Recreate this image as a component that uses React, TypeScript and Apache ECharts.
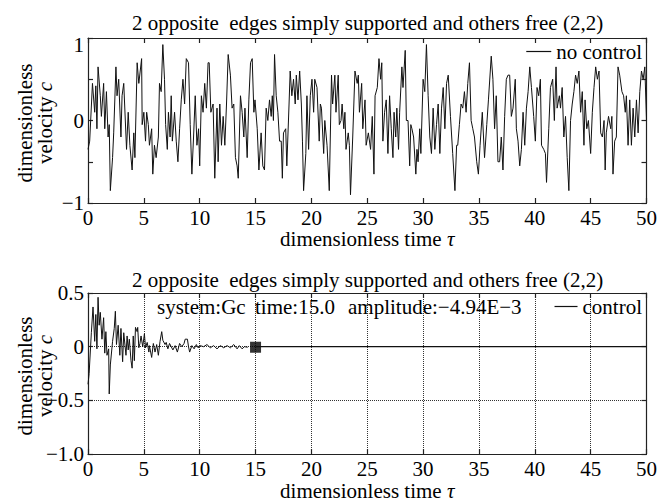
import React, { useEffect, useRef } from 'react';
import * as echarts from 'echarts';

const FONT = 'Liberation Serif, Times New Roman, serif';
const TITLE = '2 opposite\u00a0 edges simply supported and others free (2,2)';

// ---- top panel: no control ----
const topTime = [
  0, 0.15, 0.4, 0.6, 0.7, 0.8, 0.9, 1.1, 1.2, 1.4, 1.5, 1.65, 1.8, 1.9, 2.0, 2.2, 2.3, 2.5, 2.6, 2.75,
  2.95, 3.05, 3.2, 3.45, 3.6, 3.75, 3.95, 4.1, 4.2, 4.4, 4.55, 4.8, 4.85, 5.0, 5.15, 5.25, 5.4, 5.5, 5.7, 5.8,
  5.95, 6.1, 6.3, 6.4, 6.55, 6.7, 6.85, 6.95, 7.1, 7.2, 7.35, 7.45, 7.55, 7.75, 7.9, 8.05, 8.2, 8.35, 8.5, 8.65,
  8.8, 9.0, 9.15, 9.3, 9.45, 9.6, 9.75, 9.9, 10.0, 10.15, 10.3, 10.45, 10.6, 10.75, 10.85, 11.0, 11.2, 11.35, 11.55, 11.65,
  11.8, 11.95, 12.1, 12.25, 12.4, 12.55, 12.75, 12.9, 13.05, 13.2, 13.35, 13.45, 13.65, 13.8, 13.95, 14.05, 14.25, 14.4, 14.55, 14.7,
  14.85, 14.95, 15.15, 15.3, 15.5, 15.65, 15.8, 15.95, 16.1, 16.25, 16.4, 16.5, 16.6, 16.7, 16.85, 17.0, 17.15, 17.3, 17.4, 17.5,
  17.7, 17.8, 18.0, 18.1, 18.25, 18.4, 18.55, 18.65, 18.8, 18.95, 19.1, 19.2, 19.3, 19.5, 19.6, 19.75, 19.9, 20.05, 20.2, 20.3,
  20.5, 20.7, 20.8, 20.9, 21.1, 21.2, 21.4, 21.6, 21.8, 21.9, 22.1, 22.2, 22.4, 22.5, 22.65, 22.75, 22.9, 23.0, 23.1, 23.3,
  23.4, 23.5, 23.7, 23.9, 24.1, 24.2, 24.3, 24.5, 24.6, 24.8, 24.9, 25.1, 25.3, 25.45, 25.6, 25.7, 25.9, 26.05, 26.2, 26.3,
  26.4, 26.55, 26.7, 26.85, 27.0, 27.15, 27.3, 27.4, 27.55, 27.65, 27.8, 27.9, 28.1, 28.2, 28.4, 28.5, 28.65, 28.8, 28.9, 29.0,
  29.15, 29.35, 29.45, 29.55, 29.7, 29.8, 30.0, 30.15, 30.3, 30.45, 30.6, 30.75, 30.9, 31.05, 31.2, 31.35, 31.5, 31.65, 31.8, 31.95,
  32.1, 32.25, 32.45, 32.65, 32.85, 33.0, 33.1, 33.25, 33.4, 33.55, 33.7, 33.85, 34.0, 34.15, 34.3, 34.45, 34.6, 34.8, 34.95, 35.1,
  35.3, 35.5, 35.7, 35.85, 36.1, 36.25, 36.4, 36.55, 36.7, 36.85, 37.0, 37.15, 37.3, 37.45, 37.6, 37.75, 37.9, 38.05, 38.25, 38.35,
  38.5, 38.65, 38.8, 38.95, 39.1, 39.25, 39.4, 39.55, 39.7, 39.9, 40.05, 40.2, 40.35, 40.5, 40.6, 40.8, 40.95, 41.05, 41.25, 41.4,
  41.6, 41.75, 41.9, 42.0, 42.2, 42.3, 42.45, 42.6, 42.75, 42.9, 43.05, 43.2, 43.35, 43.5, 43.65, 43.8, 43.95, 44.1, 44.25, 44.4,
  44.5, 44.65, 44.8, 45.0, 45.15, 45.3, 45.45, 45.6, 45.75, 45.9, 46.05, 46.2, 46.3, 46.4, 46.6, 46.8, 46.9, 47.0, 47.15, 47.3,
  47.45, 47.6, 47.8, 47.95, 48.1, 48.2, 48.35, 48.5, 48.65, 48.8, 48.95, 49.1, 49.25, 49.4, 49.55, 49.7, 49.85, 50.0,
];
const topValue = [
  -0.35, -0.25, 0.45, 0.1, 0.42, -0.1, 0.65, 0.3, 0.05, 0.45, -0.1, 0.35, -0.2, -0.05, -0.85, -0.45, -0.15, 0.65, 0.3, 0.5,
  -0.2, 0.3, 0.45, -0.35, 0.1, -0.3, -0.6, -0.15, -0.45, 0.7, 0.45, 0.75, -0.05, 0.1, -0.25, 0.1, -0.05, -0.3, -0.1, -0.65,
  -0.3, -0.45, -0.2, 0.45, 0.35, 0.92, 0.5, -0.05, -0.35, 0.1, -0.2, 0.3, -0.25, 0.1, -0.25, -0.5, -0.1, 0.25, 0.5, 0.2,
  0.75, 0.7, -0.05, -0.65, -0.2, 0.3, -0.3, -0.1, -0.55, 0.3, 0.1, 0.45, 0.15, 0.7, 0.7, 0.1, 0.2, -0.7, 0.15, -0.5,
  0.2, -0.3, 0.05, -0.3, 0.2, 0.8, 0.55, 0.15, 0.2, -0.45, -0.55, -0.7, 0.3, 0.1, -0.2, 0.15, -0.45, 0.25, 0.7, 0.75,
  0.1, 0.25, -0.1, -0.6, -0.15, -0.55, -0.6, 0.15, 0.0, 0.25, 0.05, 0.3, 0.0, 0.8, 0.3, 0.1, -0.25, -0.25, -0.7, -0.15,
  -0.1, -0.55, 0.2, 0.6, 0.3, 0.5, 0.2, 0.55, 0.25, 0.6, 0.2, -0.25, -0.85, -0.4, 0.3, -0.35, 0.3, 0.5, 0.1, 0.5,
  0.4, -0.25, 0.2, 0.15, -0.4, 0.0, -0.3, -0.85, 0.55, 0.2, 0.55, 0.1, 0.55, -0.05, 0.0, 0.2, -0.1, 0.1, -0.35, -0.15,
  -0.3, -0.9, -0.2, 0.6, 0.45, 0.55, 0.1, 0.45, -0.1, 0.25, -0.3, -0.15, -0.35, 0.05, -0.65, 0.3, 0.4, 0.75, 0.5, 0.7,
  -0.25, 0.1, 0.25, -0.4, 0.3, -0.1, -0.45, 0.1, -0.2, 0.15, -0.35, 0.1, 0.65, 0.4, 0.85, 0.0, 0.0, -0.55, -0.05, -0.1,
  -0.2, -0.65, -0.35, -0.5, -0.1, -0.4, 0.5, 0.35, 0.92, 0.3, -0.2, -0.4, 0.15, -0.35, -0.05, 0.2, -0.4, 0.15, 0.4, -0.1,
  0.45, 0.55, 0.05, -0.4, -0.85, -0.3, -0.3, -0.05, 0.2, 0.15, 0.35, 0.1, 0.45, 0.7, 0.0, -0.1, -0.2, -0.5, -0.65, -0.3,
  0.1, -0.45, -0.05, 0.25, 0.78, 0.5, -0.1, 0.3, -0.5, -0.5, -0.2, -0.6, 0.05, 0.5, 0.55, 0.55, 0.05, 0.15, 0.5, -0.1,
  -0.25, -0.55, -0.35, 0.1, -0.3, 0.15, 0.35, 0.65, 0.4, 0.05, -0.25, 0.4, 0.3, 0.5, -0.3, -0.35, -0.4, -0.75, -0.1, 0.4,
  0.5, 0.0, 0.65, 0.15, 0.3, 0.15, 0.4, -0.2, 0.05, -0.45, -0.85, 0.0, 0.2, 0.35, 0.55, 0.45, 0.6, 0.1, 0.35, -0.3,
  0.25, -0.1, 0.0, -0.4, 0.1, 0.4, 0.65, 0.5, 0.6, -0.15, -0.2, 0.0, -0.6, -0.15, 0.05, -0.1, 0.05, -0.65, -0.25, -0.2,
  0.65, 0.55, 0.35, 0.3, 0.1, 0.3, -0.3, 0.25, -0.3, 0.15, -0.2, 0.25, -0.15, 0.35, 0.6, 0.5, 0.65, 0.0,
];

// ---- bottom panel: control ----
const bottomTime = [
  0, 0.1, 0.3, 0.45, 0.6, 0.7, 0.8, 0.9, 1.0, 1.1, 1.25, 1.4, 1.5, 1.6, 1.7, 1.85, 1.9, 2.0, 2.2, 2.35,
  2.45, 2.55, 2.7, 2.85, 2.95, 3.1, 3.2, 3.4, 3.5, 3.6, 3.7, 3.85, 3.95, 4.05, 4.15, 4.25, 4.4, 4.45, 4.55, 4.65,
  4.75, 4.9, 5.05, 5.15, 5.3, 5.45, 5.5, 5.7, 5.85, 6.0, 6.15, 6.3, 6.45, 6.6, 6.7, 6.9, 7.0, 7.15, 7.3, 7.6,
  7.8, 8.0, 8.2, 8.4, 8.6, 8.7, 8.9, 9.0, 9.1, 9.3, 9.5, 9.7, 9.85, 10.05, 10.35, 10.65, 10.95, 11.25, 11.55, 11.85,
  12.15, 12.45, 12.75, 13.05, 13.35, 13.55, 13.8, 14.0, 14.3,
];
const bottomValue = [
  -0.35, -0.25, 0.13, 0.37, 0.05, 0.3, -0.02, 0.46, 0.2, 0.32, 0.07, 0.27, -0.06, 0.14, -0.08, -0.02, -0.44, -0.17, 0.05, 0.17,
  0.33, 0.02, 0.2, -0.08, 0.17, -0.14, 0.13, -0.08, 0.1, -0.03, 0.07, -0.13, -0.2, 0.1, -0.13, 0.18, 0.14, 0.18, -0.01, 0.03,
  0.1, 0.0, 0.12, -0.01, 0.04, -0.05, 0.01, -0.1, 0.03, -0.05, 0.02, -0.08, 0.05, 0.14, 0.06, 0.02, 0.04, -0.02, 0.03, -0.03,
  0.01, -0.05, 0.03, 0.0, 0.03, 0.07, 0.07, 0.0, -0.05, 0.01, -0.02, 0.02, -0.01, 0.01, 0.0, 0.02, -0.01, 0.01, -0.02, 0.01,
  -0.01, 0.01, -0.01, 0.02, -0.02, 0.01, -0.02, 0.0, -0.005,
];
const endTime = 15.0;
const endAmplitude = -4.94e-3;
const restSegment = [[15, 0], [50, 0]];

const xTicks = { min: 0, max: 50, interval: 5 };

const fmtTop = (v: number) =>
  !Number.isInteger(v) ? '' : v === 1 ? '{top|1}' : v < 0 ? '\u2212' + Math.abs(v) : String(v);
const fmtBottom = (v: number) => (v === 0 ? '0' : v < 0 ? '\u2212' + Math.abs(v).toFixed(1) : v.toFixed(1));

const textBase = { fontFamily: FONT, fontSize: 21, color: '#000' };

function xAxisDef(grid: number, position: 'top' | 'bottom', labels: boolean, dotted: boolean) {
  return {
    type: 'value', gridIndex: grid, position, ...xTicks,
    axisLine: { show: true, onZero: false, lineStyle: { color: '#222', width: 1.2 } },
    axisTick: { show: true, inside: true, length: 5, lineStyle: { color: '#222', width: 1.2 } },
    axisLabel: { show: labels, margin: 4, ...textBase },
    splitLine: { show: dotted, lineStyle: { type: 'dotted', color: '#333', width: 1 } },
    name: labels ? 'dimensionless time {i|\u03c4}' : '',
    nameLocation: 'middle', nameGap: 22,
    nameTextStyle: { ...textBase, rich: { i: { ...textBase, fontStyle: 'italic' } } },
  };
}
function yAxisDef(grid: number, position: 'left' | 'right', labels: boolean, min: number, max: number, fmt: (v: number) => string, dotted: boolean) {
  return {
    type: 'value', gridIndex: grid, position, min, max, interval: 0.5,
    axisLine: { show: true, onZero: false, lineStyle: { color: '#222', width: 1.2 } },
    axisTick: { show: true, inside: true, length: 5, lineStyle: { color: '#222', width: 1.2 } },
    axisLabel: {
      show: labels, margin: 4, formatter: fmt, ...textBase,
      rich: { top: { ...textBase, padding: [14, 0, 0, 0] } },
    },
    splitLine: { show: dotted, lineStyle: { type: 'dotted', color: '#333', width: 1 } },
  };
}

function yName(cx: number, cy: number, text: string) {
  return {
    type: 'text', x: cx, y: cy, rotation: Math.PI / 2,
    style: {
      text, fill: '#000', fontFamily: FONT, fontSize: 21, textAlign: 'center', textVerticalAlign: 'middle',
      rich: { i: { fontFamily: FONT, fontSize: 21, fontStyle: 'italic', fill: '#000' } },
    },
  };
}
function plainText(x: number, y: number, text: string, align = 'left') {
  return {
    type: 'text', x, y,
    style: { text, fill: '#000', fontFamily: FONT, fontSize: 21, textAlign: align, textVerticalAlign: 'middle' },
  };
}

export default function App() {
  const ref = useRef<HTMLDivElement>(null);
  useEffect(() => {
    if (!ref.current) return;
    const chart = echarts.init(ref.current, undefined, { renderer: 'svg' });
    const topData = topTime.map((t, i) => [t, topValue[i]]);
    const bottomData = bottomTime.map((t, i) => [t, bottomValue[i]]);
    chart.setOption({
      animation: false,
      backgroundColor: '#fff',
      grid: [
        { left: 88, top: 38, width: 559, height: 165 },
        { left: 88, top: 293, width: 559, height: 164 },
      ],
      xAxis: [
        xAxisDef(0, 'bottom', true, false),
        xAxisDef(0, 'top', false, false),
        xAxisDef(1, 'bottom', true, true),
        xAxisDef(1, 'top', false, false),
      ],
      yAxis: [
        yAxisDef(0, 'left', true, -1, 1, fmtTop, false),
        yAxisDef(0, 'right', false, -1, 1, fmtTop, false),
        yAxisDef(1, 'left', true, -1, 0.5, fmtBottom, true),
        yAxisDef(1, 'right', false, -1, 0.5, fmtBottom, false),
      ],
      legend: [
        {
          data: ['no control'], right: 13, top: 36, itemWidth: 25, itemHeight: 1.2, icon: 'rect',
          itemStyle: { color: '#111' }, textStyle: { ...textBase }, selectedMode: false,
        },
        {
          data: ['control'], right: 13, top: 291, itemWidth: 23, itemHeight: 1.2, icon: 'rect',
          itemStyle: { color: '#111' }, textStyle: { ...textBase }, selectedMode: false,
        },
      ],
      series: [
        {
          name: 'no control', type: 'line', xAxisIndex: 0, yAxisIndex: 0, data: topData,
          symbol: 'none', lineStyle: { color: '#111', width: 1 }, itemStyle: { color: '#111' },
        },
        {
          name: 'control', type: 'line', xAxisIndex: 2, yAxisIndex: 2, data: bottomData,
          symbol: 'none', lineStyle: { color: '#111', width: 1 }, itemStyle: { color: '#111' },
        },
        {
          name: 'control rest', type: 'line', xAxisIndex: 2, yAxisIndex: 2, data: restSegment,
          symbol: 'none', lineStyle: { color: '#111', width: 1.2 }, silent: true,
        },
        {
          name: 'current', type: 'scatter', xAxisIndex: 2, yAxisIndex: 2,
          data: [[endTime, endAmplitude]], symbol: 'rect', symbolSize: 11,
          itemStyle: { color: '#000' }, silent: true,
        },
      ],
      graphic: [
        plainText(367.5, 23, TITLE, 'center'),
        plainText(367.5, 280, TITLE, 'center'),
        yName(25, 123, 'dimensionless'),
        yName(45, 123, 'velocity {i|c}'),
        yName(25, 376, 'dimensionless'),
        yName(45, 376, 'velocity {i|c}'),
        plainText(157, 307, 'system:Gc'),
        plainText(255, 307, 'time:15.0'),
        plainText(348, 307, 'amplitude:\u22124.94E\u22123'),
      ],
    });
    return () => chart.dispose();
  }, []);
  return <div ref={ref} style={{ position: 'fixed', left: 0, top: 0, width: 660, height: 502 }} />;
}
